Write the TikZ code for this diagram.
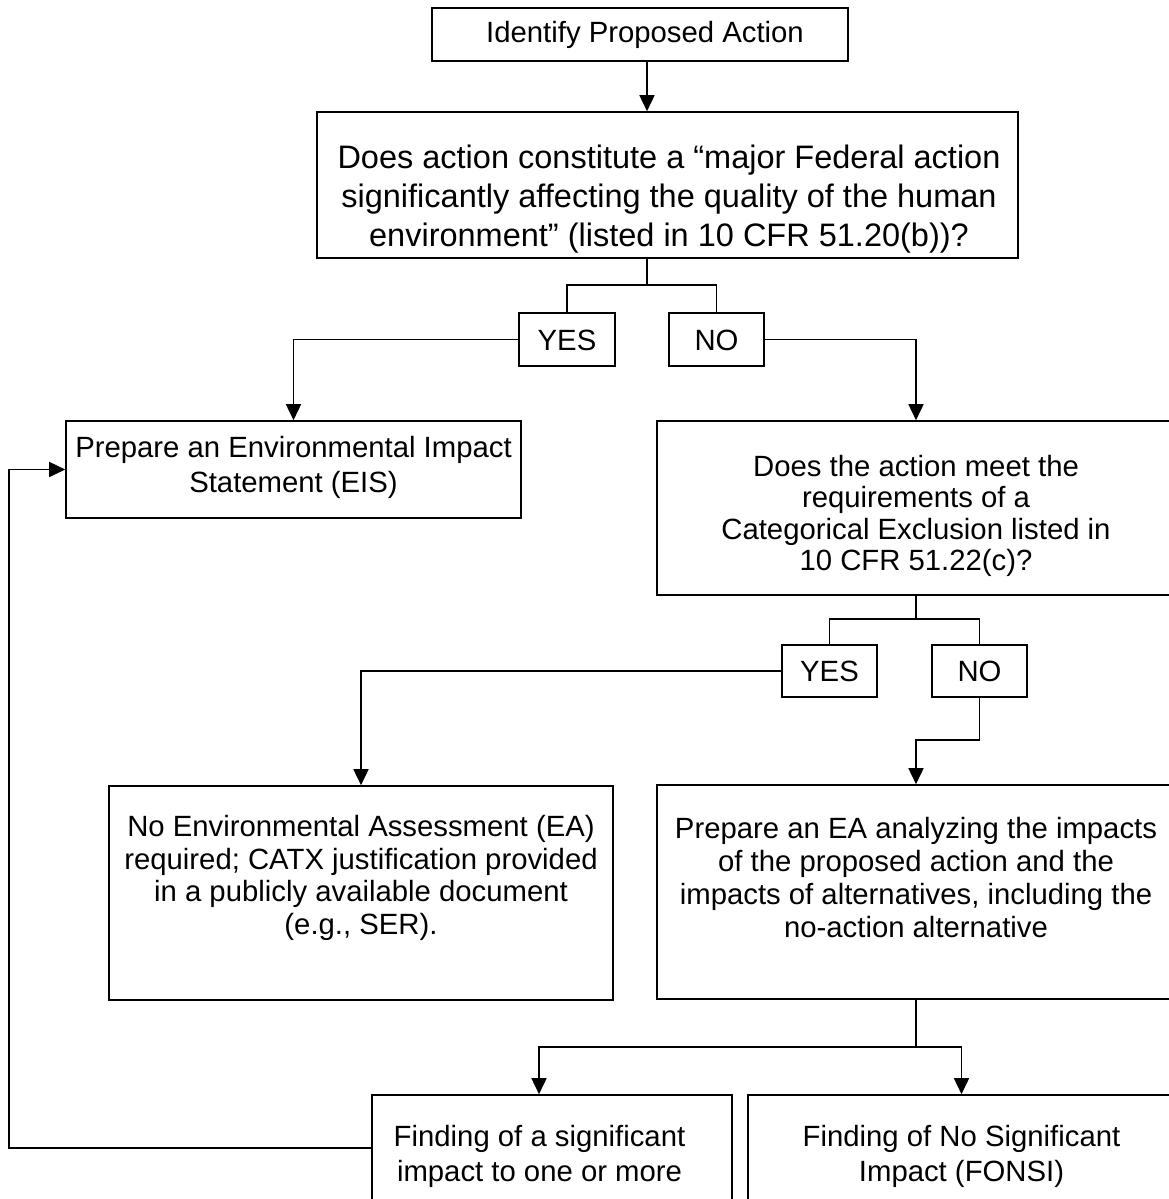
\documentclass[tikz,border=0pt]{standalone}
\usepackage{fontspec}
\setmainfont{Liberation Sans}
\usetikzlibrary{arrows.meta}
\begin{document}
\begin{tikzpicture}[x=1pt,y=-1pt,
  box/.style={draw=black, line width=1.6pt, rectangle, inner sep=0pt},
  txt/.style={align=center, inner sep=0pt, font=\fontsize{29.3}{33.5}\selectfont},
  line/.style={draw=black, line width=1.6pt},
  arr/.style={line, -{Triangle[length=16pt,width=15pt]}}]
\useasboundingbox (0,0) rectangle (1169,1199);
\clip (0,0) rectangle (1169,1199);
\fill[white] (0,0) rectangle (1169,1199);

% boxes
\node[box, minimum width=416pt, minimum height=53pt] (top) at (640,34.5) {};
\node[box, minimum width=701pt, minimum height=146pt] (big) at (667.5,185) {};
\node[box, minimum width=96pt, minimum height=53pt] (yes1) at (567,339.5) {};
\node[box, minimum width=95pt, minimum height=53pt] (no1) at (716.5,339.5) {};
\node[box, minimum width=455pt, minimum height=97pt] (eis) at (293.5,469.5) {};
\node[box, minimum width=518pt, minimum height=174pt] (catex) at (916,508) {};
\node[box, minimum width=95pt, minimum height=52pt] (yes2) at (829.5,671) {};
\node[box, minimum width=95pt, minimum height=52pt] (no2) at (979.5,671) {};
\node[box, minimum width=504pt, minimum height=214pt] (noea) at (361,893) {};
\node[box, minimum width=518pt, minimum height=214pt] (ea) at (916,892) {};
\node[box, minimum width=360pt, minimum height=106pt] (fsi) at (552,1148) {};
\node[box, minimum width=427pt, minimum height=106pt] (fonsi) at (961.5,1148) {};

% texts
\node[txt] (ttop) at (645,35) {Identify Proposed Action};
\node[txt, font=\fontsize{32.5}{39}\selectfont] (tbig) at (669,199) {Does action constitute a “major Federal action\\significantly affecting the quality of the human\\environment” (listed in 10 CFR 51.20(b))?};
\node[txt] (tyes1) at (567,340) {YES};
\node[txt] (tno1) at (716.5,340) {NO};
\node[txt, font=\fontsize{29.3}{35}\selectfont] (teis) at (293.5,467) {Prepare an Environmental Impact\\Statement (EIS)};
\node[txt, font=\fontsize{29.3}{31.5}\selectfont] (tcatex) at (916,516) {Does the action meet the\\requirements of a\\Categorical Exclusion listed in\\10 CFR 51.22(c)?};
\node[txt] (tyes2) at (829.5,671) {YES};
\node[txt] (tno2) at (979.5,671) {NO};
\node[txt, font=\fontsize{29.3}{32.5}\selectfont] (tnoea) at (361,878) {No Environmental Assessment (EA)\\required; CATX justification provided\\in a publicly available document\\(e.g., SER).};
\node[txt, font=\fontsize{29.3}{33}\selectfont] (tea) at (916,878) {Prepare an EA analyzing the impacts\\of the proposed action and the\\impacts of alternatives, including the\\no-action alternative};
\node[txt, font=\fontsize{29.3}{35}\selectfont] (tfsi) at (539.5,1156) {Finding of a significant\\impact to one or more};
\node[txt, font=\fontsize{29.3}{35}\selectfont] (tfonsi) at (961.5,1156) {Finding of No Significant\\Impact (FONSI)};

% coordinates
\coordinate (s1) at (647,285);
\coordinate (s2) at (916,619);
\coordinate (c3) at (916,740);
\coordinate (s3) at (916,1047);
\coordinate (a5) at (539,1047);
\coordinate (c4) at (9,1148);

% connectors
\draw[arr] (top.south -| s1) -- (big.north -| s1);
\draw[line] (big.south -| s1) -- (s1);
\draw[line] (yes1.north) |- (s1) -| (no1.north);
\draw[arr] (yes1.west) -| (eis.north);
\draw[arr] (no1.east) -| (catex.north);
\draw[line] (catex.south) -- (s2);
\draw[line] (yes2.north) |- (s2) -| (no2.north);
\draw[arr] (yes2.west) -| (noea.north);
\draw[arr] (no2.south) |- (c3) -- (ea.north);
\draw[line] (ea.south) -- (s3);
\draw[arr] (s3) -- (a5) -- (a5 |- fsi.north);
\draw[arr] (s3) -| (fonsi.north);
\draw[arr] (fsi.west |- c4) -- (c4) |- (eis.west);
\end{tikzpicture}
\end{document}
